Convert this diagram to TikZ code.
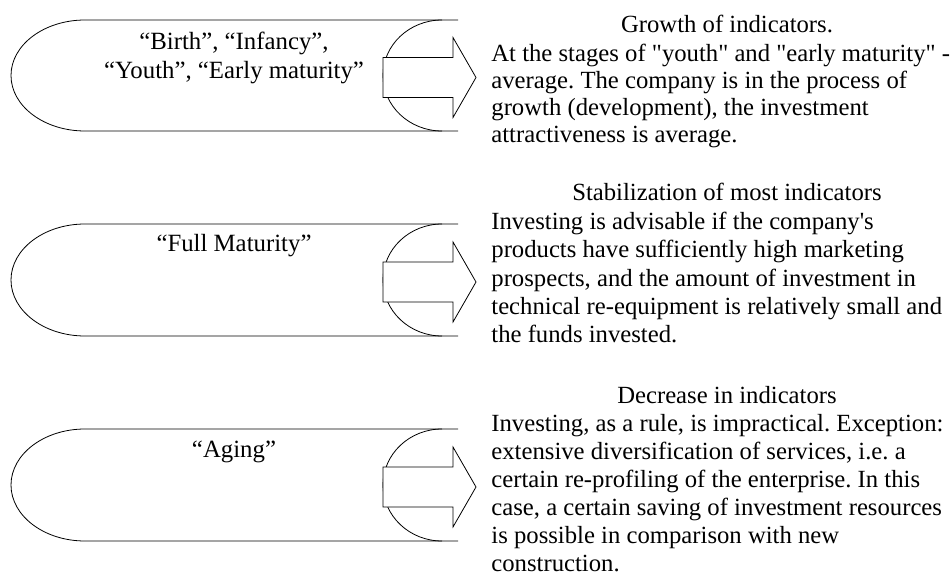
\documentclass[tikz,border=0pt]{standalone}
\usepackage{fontspec}
\setmainfont{Liberation Serif}[Ligatures=TeXOff]
\usetikzlibrary{positioning}
\frenchspacing

\begin{document}
\begin{tikzpicture}[
			x=1pt, y=-1pt,
			line width=0.8pt,
			stage/.style = {font=\fontsize{24.8}{29}\selectfont, align=center},
			title/.style = {font=\fontsize{24.7}{28}\selectfont},
			body/.style = {font=\fontsize{24.7}{28.2}\selectfont, align=left, anchor=north west, inner sep=0pt},
			]
			\useasboundingbox (0,0) rectangle (951,577);
			% capsules and arrows
			\foreach \t/\b in {20/131, 224/336, 429/541} {
				\pgfmathsetmacro{\h}{(\b-\t)/2}
				\pgfmathsetmacro{\c}{(\t+\b)/2+2}
				\draw (458,\t) -- (85,\t) arc[start angle=90, end angle=270, x radius=74pt, y radius=\h pt] -- (458,\b);
				\draw (442,\t) arc[start angle=90, end angle=270, x radius=59pt, y radius=\h pt];
				\draw[fill=white] (383,\c-20) -- (453,\c-20) -- (453,\c-40) -- (476,\c)
					-- (453,\c+40) -- (453,\c+20) -- (383,\c+20) -- cycle;
			}
			% stages
			\node[stage] (s1) at (234,57.5) {“Birth”, “Infancy”,\\“Youth”, “Early maturity”};
			\node[stage] (s2) at (234,246) {“Full Maturity”};
			\node[stage] (s3) at (234,452) {“Aging”};
			% notes
			\node[title] (t1) at (727,24) {Growth of indicators.};
			\node[body, font=\fontsize{24.7}{26.8}\selectfont] (n1) at (491,44) {At the stages of "youth" and "early maturity" -\\
				average. The company is in the process of\\
				growth (development), the investment\\
				attractiveness is average.};
			\node[title] (t2) at (727,192) {Stabilization of most indicators};
			\node[body] (n2) at (491,212) {Investing is advisable if the company's\\
				products have sufficiently high marketing\\
				prospects, and the amount of investment in\\
				technical re-equipment is relatively small and\\
				the funds invested.};
			\node[title] (t3) at (727,395) {Decrease in indicators};
			\node[body, font=\fontsize{24.7}{28}\selectfont] (n3) at (491,414) {Investing, as a rule, is impractical. Exception:\\
				extensive diversification of services, i.e. a\\
				certain re-profiling of the enterprise. In this\\
				case, a certain saving of investment resources\\
				is possible in comparison with new\\
				construction.};
		\end{tikzpicture}
\end{document}
